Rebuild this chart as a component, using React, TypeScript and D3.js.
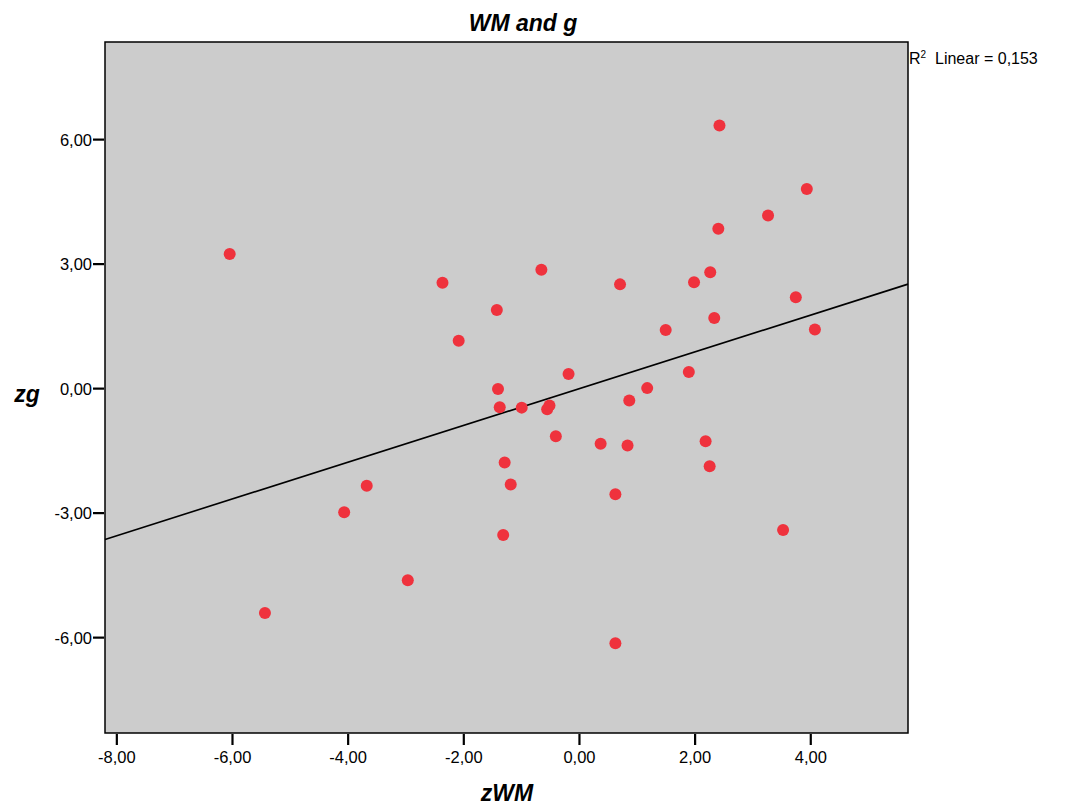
import { useRef, useEffect } from "react";
import * as d3 from "d3";

// zWM / zg scores
const zWM = [
  -6.04, -5.43, -4.06, -3.67, -2.96, -2.36, -2.08, -1.42, -1.4, -1.37,
  -1.285, -1.31, -1.18, -0.99, -0.65, -0.55, -0.51, -0.4, -0.18, 0.375,
  0.63, 0.63, 0.71, 0.84, 0.87, 1.18, 1.5, 1.9, 1.99, 2.19,
  2.26, 2.27, 2.34, 2.41, 2.43, 3.27, 3.53, 3.75, 3.94, 4.08,
];
const zg = [
  3.23, -5.42, -2.99, -2.35, -4.63, 2.54, 1.14, 1.88, -0.02, -0.46,
  -1.79, -3.54, -2.32, -0.47, 2.85, -0.51, -0.42, -1.16, 0.34, -1.34,
  -2.56, -6.15, 2.5, -1.38, -0.3, 0.0, 1.4, 0.39, 2.55, -1.28,
  -1.88, 2.79, 1.69, 3.84, 6.33, 4.16, -3.42, 2.19, 4.8, 1.41,
];
const xTicks = [-8, -6, -4, -2, 0, 2, 4];
const yTicks = [-6, -3, 0, 3, 6];
const xDomain = [-8.196, 5.69];
const yDomain = [-8.31, 8.34];
// fit line
const fitSlope = 0.443;
const fitIntercept = -0.015;
const rSquared = "0,153";

const fmt = (v: number) => v.toFixed(2).replace(".", ",");

const App = () => {
  const svgRef = useRef<SVGSVGElement>(null);

  useEffect(() => {
    const svg = d3.select(svgRef.current);
    svg.selectAll("*").remove();

    const left = 105;
    const right = 908;
    const top = 42;
    const bottom = 733;

    const x = d3.scaleLinear().domain(xDomain).range([left, right]);
    const y = d3.scaleLinear().domain(yDomain).range([bottom, top]);

    svg
      .append("rect")
      .attr("x", left)
      .attr("y", top)
      .attr("width", right - left)
      .attr("height", bottom - top)
      .attr("fill", "#cccccc");

    // regression line
    svg
      .append("line")
      .attr("x1", x(xDomain[0]))
      .attr("y1", y(fitIntercept + fitSlope * xDomain[0]))
      .attr("x2", x(xDomain[1]))
      .attr("y2", y(fitIntercept + fitSlope * xDomain[1]))
      .attr("stroke", "#000")
      .attr("stroke-width", 1.6);

    svg
      .append("g")
      .selectAll("circle")
      .data(zWM.map((v, i) => [v, zg[i]]))
      .join("circle")
      .attr("cx", (d) => x(d[0]))
      .attr("cy", (d) => y(d[1]))
      .attr("r", 6)
      .attr("fill", "#ef323d");

    svg
      .append("rect")
      .attr("x", left)
      .attr("y", top)
      .attr("width", right - left)
      .attr("height", bottom - top)
      .attr("fill", "none")
      .attr("stroke", "#000")
      .attr("stroke-width", 1.5);

    const font = "'Liberation Sans', Arial, sans-serif";

    const xAxis = svg
      .append("g")
      .attr("transform", `translate(0,${bottom + 1})`)
      .call(d3.axisBottom(x).tickValues(xTicks).tickSize(11).tickSizeOuter(0).tickPadding(6).tickFormat((d) => fmt(+d)));
    const yAxis = svg
      .append("g")
      .attr("transform", `translate(${left - 1},0)`)
      .call(d3.axisLeft(y).tickValues(yTicks).tickSize(11).tickSizeOuter(0).tickPadding(1).tickFormat((d) => fmt(+d)));

    [xAxis, yAxis].forEach((a) => {
      a.select(".domain").remove();
      a.selectAll("line").attr("stroke", "#000").attr("stroke-width", 2.2);
      a.selectAll("text").attr("font-family", font).attr("font-size", 16.5).attr("fill", "#000");
    });
    yAxis.selectAll("text").attr("dy", "0.36em");

    svg
      .append("text")
      .attr("x", 523)
      .attr("y", 31)
      .attr("text-anchor", "middle")
      .attr("font-family", font)
      .attr("font-size", 23)
      .attr("font-weight", "bold")
      .attr("font-style", "italic")
      .text("WM and g");

    svg
      .append("text")
      .attr("x", 507)
      .attr("y", 801)
      .attr("text-anchor", "middle")
      .attr("font-family", font)
      .attr("font-size", 23)
      .attr("font-weight", "bold")
      .attr("font-style", "italic")
      .text("zWM");

    svg
      .append("text")
      .attr("x", 27)
      .attr("y", 402)
      .attr("text-anchor", "middle")
      .attr("font-family", font)
      .attr("font-size", 23)
      .attr("font-weight", "bold")
      .attr("font-style", "italic")
      .text("zg");

    const r2 = svg
      .append("text")
      .attr("x", 909)
      .attr("y", 64)
      .attr("font-family", font)
      .attr("font-size", 16)
      .attr("fill", "#000");
    r2.append("tspan").text("R");
    r2.append("tspan").attr("font-size", 10).attr("dy", -6).text("2");
    r2.append("tspan").attr("dy", 6).text(`\u00a0\u00a0Linear = ${rSquared}`);
  }, []);

  return (
    <svg
      ref={svgRef}
      width={1066}
      height={807}
      style={{ position: "absolute", left: 0, top: 0, background: "#fff" }}
    ></svg>
  );
};

export default App;
